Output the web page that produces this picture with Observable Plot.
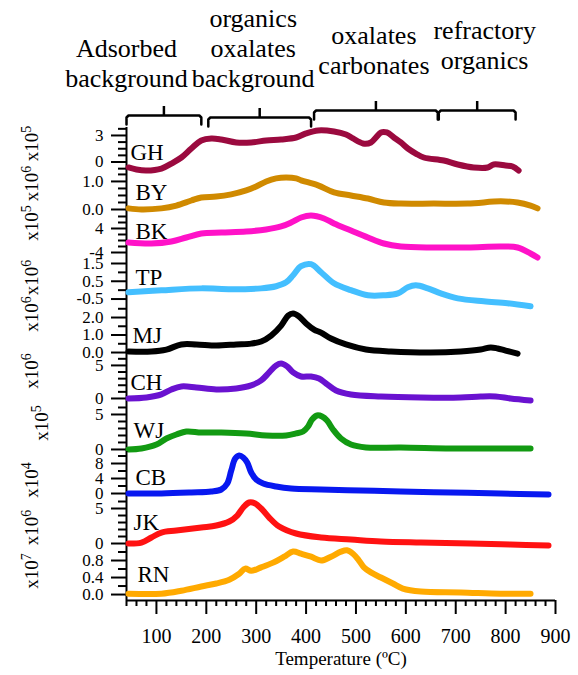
<!DOCTYPE html>
<html><head><meta charset="utf-8">
<script src="https://cdn.jsdelivr.net/npm/d3@7"></script>
<script src="https://cdn.jsdelivr.net/npm/@observablehq/plot@0.6"></script>
<style>
body{margin:0;background:#fff;}
#chart{position:relative;width:578px;height:675px;}
#chart svg{position:absolute;left:0;top:0;overflow:visible;background:transparent;}
</style></head><body><div id="chart"></div>
<script>
const FONT = '"Liberation Serif","Times New Roman",serif';

// ---- series data (temperature in ºC, signal in panel units) ----
const ghT = [44,60,80,110,130,150,170,190,210,230,260,290,320,350,380,400,424,456,480,494,514,530,542,550,562,576,590,604,620,636,676,704,736,764,776,800,814,826];
const ghV = [-0.62,-0.85,-0.96,-0.74,-0.17,0.51,1.53,2.43,2.66,2.55,2.21,2.21,2.43,2.55,2.77,3.23,3.57,3.45,3.11,2.66,2.10,2.21,2.89,3.34,3.34,2.77,2.21,1.53,0.96,0.51,0.17,-0.28,-0.62,-0.62,-0.28,-0.40,-0.51,-0.96];
const byT = [44,70,110,140,170,190,220,250,280,300,320,340,360,380,390,424,456,490,524,556,590,656,724,790,824,850,864];
const byV = [0.04,0,0.04,0.14,0.32,0.43,0.46,0.54,0.68,0.82,1.0,1.11,1.14,1.11,1.04,0.86,0.61,0.5,0.39,0.25,0.21,0.21,0.21,0.29,0.25,0.14,0.04];
const bkT = [44,90,130,160,190,230,280,320,350,370,390,410,436,456,490,524,556,590,656,724,790,824,850,864];
const bkV = [-0.67,-1,-0.33,1.0,2.33,2.67,3.0,3.67,4.67,6.0,7.67,8.33,7.33,5.67,3.33,1.0,-1.0,-2.0,-2.33,-2.33,-2.0,-2.33,-4.33,-5.67];
const tpT = [44,110,190,250,310,340,360,374,390,410,430,456,490,524,556,584,604,620,644,670,704,756,804,850];
const tpV = [-0.12,-0.01,0.1,0.05,0.1,0.22,0.44,0.84,1.35,1.46,1.01,0.39,0.0,-0.29,-0.29,-0.18,0.16,0.27,0.1,-0.18,-0.46,-0.63,-0.74,-0.91];
const mjT = [44,90,120,150,180,220,260,290,310,330,350,364,374,386,400,416,430,450,480,520,570,650,710,750,770,784,800,824];
const mjV = [0.06,0.06,0.17,0.46,0.46,0.4,0.46,0.51,0.63,0.97,1.54,2.11,2.23,2.06,1.66,1.31,1.14,0.80,0.46,0.17,0.06,0.0,0.06,0.17,0.29,0.23,0.11,-0.06];
const chT = [44,80,110,130,150,180,220,260,290,310,326,340,350,362,374,390,410,426,440,460,490,550,630,710,750,780,810,850];
const chV = [0,0.15,0.61,1.36,1.82,1.67,1.36,1.52,1.97,2.73,3.94,5.0,5.3,4.85,3.94,3.33,3.33,3.03,2.27,1.21,0.61,0.3,0.15,0.15,0.3,0.3,0,-0.3];
const wjT = [44,70,100,120,140,160,190,230,280,320,360,380,394,404,412,422,432,442,454,470,490,520,590,690,790,850];
const wjV = [0,0.14,0.71,1.57,2.14,2.57,2.43,2.43,2.29,2.0,2.0,2.29,2.57,3.29,4.29,4.86,4.71,4.14,2.86,1.57,0.71,0.29,0.29,0.14,0.14,0.14];
const cbT = [44,110,170,210,230,242,250,258,266,274,282,290,300,314,340,370,430,510,590,690,790,886];
const cbV = [0,0,0.27,0.53,1.07,2.67,6.13,9.33,10.13,9.6,8.27,5.6,3.73,2.67,1.87,1.33,1.07,0.8,0.53,0.27,0,-0.27];
const jkT = [44,70,90,110,140,190,220,246,262,274,286,298,310,326,346,380,430,490,550,630,730,810,886];
const jkV = [0,0.14,0.86,1.57,1.86,2.29,2.57,3.14,4.0,5.14,5.86,5.71,5.0,3.71,2.43,1.43,0.86,0.57,0.29,0.14,0,-0.14,-0.29];
const rnT = [44,110,150,190,220,246,266,278,290,310,334,356,374,390,410,430,450,470,482,494,506,516,530,550,574,594,630,710,790,850];
const rnV = [0.02,0.02,0.09,0.19,0.26,0.35,0.49,0.61,0.56,0.64,0.75,0.89,1.01,0.96,0.89,0.80,0.89,1.01,1.04,0.96,0.80,0.64,0.52,0.40,0.26,0.14,0.07,0.05,0.02,0.02];

// ---- sample names, exponents, axis ticks ----
const names = ["GH","BY","BK","TP","MJ","CH","WJ","CB","JK","RN"];
const exponents = ["5","6","5","6","6","6","5","4","6","7"];
const seriesT = [ghT,byT,bkT,tpT,mjT,chT,wjT,cbT,jkT,rnT];
const seriesV = [ghV,byV,bkV,tpV,mjV,chV,wjV,cbV,jkV,rnV];
const yDomains = [[-0.96,3.9],[-0.107,1.39],[-5,9.33],[-0.92,1.95],[-0.17,2.63],[-0.76,6.5],[-0.29,6.57],[-1.33,11.2],[-0.57,6.43],[-0.14,1.106]];
const majorTicks = [[0,3],[0,1],[-4,4],[-0.5,0.5,1.5],[0,1,2],[0,5],[0,5],[0,4,8],[0,5],[0,0.4,0.8]];
const majorLabels = [["0","3"],["0.0","1.0"],["-4","4"],["-0.5","0.5","1.5"],["0.0","1.0","2.0"],["0","5"],["0","5"],["0","4","8"],["0","5"],["0.0","0.4","0.8"]];
const minorSteps = [0.75,0.25,2,0.5,0.5,1,1,2,1,0.2];

// ---- temperature axis and region annotations ----
const xDomain = [40,900];
const xMajor = [100,200,300,400,500,600,700,800,900];
const xMinorStep = 20;
const regionStart = [40,204,416,666];
const regionEnd = [190,410,664,820];
const regionLabels = ["Adsorbed\nbackground","organics\noxalates\nbackground","oxalates\ncarbonates","refractory\norganics"];

// ---- styles / layout ----
const colors = ["#9b0a3f","#d08a00","#ff12c8","#44bfff","#000000","#6a12d0","#129a12","#0818f0","#ff1212","#ffaa00"];
const panelTop =    [127,170,212,255,306,355,403,451,498,547];
const panelBottom = [170,212,255,306,355,403,451,498,547,600];
const labelDx = [4,9,9,9,6,4,7,9,7,11];
const labelDy = [4,1,-2,-3,5,3,3,3,0,1];
const expX = [38,38,38,38,38,38,48,38,38,38];
const expY = [143.5,183.5,223,277.5,314,371,423,480,527.5,571];
const regionTextX = [40,294,536,758];
const regionTextY = [61.7,46.7,48.7,43.7];
const bracketLevel = [115,117,110,110];

const W = 578, H = 675, ML = 126, MR = 23, MB = 75;
const root = document.getElementById("chart");

names.forEach((name, i) => {
  const data = seriesT[i].map((t, j) => ({t, v: seriesV[i][j]}));
  const [lo, hi] = yDomains[i];
  const step = minorSteps[i];
  const minor = d3.range(Math.ceil(lo/step - 1e-9)*step, hi + 1e-9, step)
    .filter(v => !majorTicks[i].some(m => Math.abs(m - v) < 1e-6));
  const last = i === names.length - 1;
  const marks = [
    Plot.ruleX([xDomain[0]], {y1: lo, y2: hi, stroke: "#000", strokeWidth: 2}),
    Plot.axisY(minor, {anchor: "left", tickSize: 8, strokeWidth: 2, tickFormat: () => ""}),
    Plot.axisY(majorTicks[i], {anchor: "left", tickSize: 15, tickPadding: 8, strokeWidth: 2, fontSize: 17, fill: "#000",
      fontFamily: FONT, tickFormat: d => majorLabels[i][majorTicks[i].indexOf(d)]}),
    Plot.line(data, {x: "t", y: "v", stroke: colors[i], strokeWidth: 6, curve: "catmull-rom", strokeLinecap: "round"}),
    Plot.text([name], {x: xDomain[0], y: (lo + hi)/2, dx: labelDx[i], dy: labelDy[i], textAnchor: "start", lineAnchor: "middle",
      fontSize: 23, fill: "#000", fontFamily: FONT})
  ];
  if (last) {
    const xMinor = d3.range(xDomain[0], xDomain[1] + 1, xMinorStep).filter(v => v % 100 !== 0);
    marks.push(
      Plot.ruleY([lo], {x1: xDomain[0], x2: xDomain[1], stroke: "#000", strokeWidth: 2}),
      Plot.axisX(xMinor, {anchor: "bottom", tickSize: 6, strokeWidth: 2, tickFormat: () => ""}),
      Plot.axisX(xMajor, {anchor: "bottom", tickSize: 14, tickPadding: 14, strokeWidth: 2, fontSize: 20, fill: "#000",
        fontFamily: FONT, tickFormat: d => String(d)}),
      Plot.text(["Temperature (ºC)"], {frameAnchor: "bottom", dy: 64, fontSize: 19, fill: "#000", fontFamily: FONT})
    );
  }
  const svg = Plot.plot({
    width: W, height: H, marginLeft: ML, marginRight: MR, marginTop: 0, marginBottom: MB,
    x: {domain: xDomain, range: [ML, W - MR], label: null, axis: last ? undefined : null},
    y: {domain: [lo, hi], range: [panelBottom[i], panelTop[i]], label: null},
    style: {fontFamily: FONT, background: "transparent", overflow: "visible", color: "#000"},
    marks
  });
  root.appendChild(svg);
});

// ---- top annotation layer: brackets and region names ----
const bracketPts = [];
regionStart.forEach((s, i) => {
  const e = regionEnd[i], L = bracketLevel[i];
  bracketPts.push({r: i, t: s, y: L + 9}, {r: i, t: s, y: L + 2}, {r: i, t: s + 4, y: L},
                  {r: i, t: e - 4, y: L}, {r: i, t: e, y: L + 2}, {r: i, t: e, y: L + 9});
});
const ann = Plot.plot({
  width: W, height: H, marginLeft: ML, marginRight: MR, marginTop: 0, marginBottom: MB,
  x: {domain: xDomain, range: [ML, W - MR], axis: null},
  y: {type: "identity", axis: null},
  style: {fontFamily: FONT, background: "transparent", overflow: "visible", color: "#000"},
  marks: [
    Plot.line(bracketPts, {x: "t", y: "y", z: "r", stroke: "#000", strokeWidth: 2.5, strokeLinejoin: "round"}),
    Plot.ruleX(regionStart.map((s, i) => ({t: (s + regionEnd[i]) / 2, y1: bracketLevel[i] - 9, y2: bracketLevel[i]})),
      {x: "t", y1: "y1", y2: "y2", stroke: "#000", strokeWidth: 2.5}),
    Plot.text(regionLabels, {x: (d, i) => regionTextX[i], y: (d, i) => regionTextY[i], text: d => d,
      fontSize: 26, lineHeight: 1.16, lineAnchor: "middle", textAnchor: "middle", fill: "#000", fontFamily: FONT})
  ]
});
root.appendChild(ann);

// ---- rotated exponent labels on the left ----
const s = d3.select(ann);
exponents.forEach((ex, i) => {
  const t = s.append("text")
    .attr("transform", `translate(${expX[i]},${expY[i]}) rotate(-90)`)
    .attr("text-anchor", "middle")
    .attr("font-family", FONT)
    .attr("font-size", 19)
    .attr("fill", "#000");
  t.append("tspan").text("x10");
  t.append("tspan").attr("dy", "-0.5em").attr("font-size", 14).text(ex);
});
</script></body></html>
